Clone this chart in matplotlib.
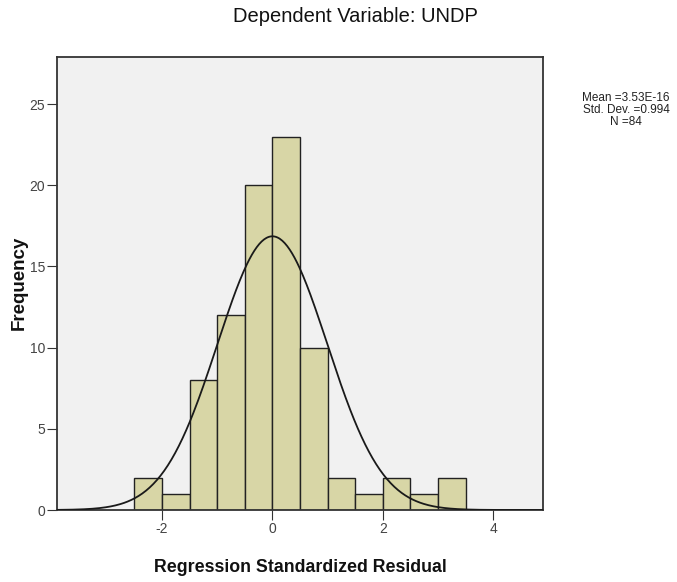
import matplotlib
matplotlib.use('Agg')
import matplotlib.pyplot as plt
import numpy as np

# histogram of standardized residuals
bin_edges = [-2.5, -2.0, -1.5, -1.0, -0.5, 0.0, 0.5, 1.0, 1.5, 2.0, 2.5, 3.0, 3.5]
counts = [2, 1, 8, 12, 20, 23, 10, 2, 1, 2, 1, 2]
x_ticks = [-2, 0, 2, 4]
y_ticks = [0, 5, 10, 15, 20, 25]
mean_val = 3.53e-16
std_val = 0.994
n_val = 84

narrow = ['Liberation Sans Narrow', 'Liberation Sans', 'DejaVu Sans']

fig = plt.figure(figsize=(6.77, 5.82), dpi=100)
ax = fig.add_axes([57 / 677, 1 - 510 / 582, 486 / 677, 453 / 582])
ax.set_facecolor('#f1f1f1')

widths = np.diff(bin_edges)
ax.bar(bin_edges[:-1], counts, width=widths, align='edge',
       color='#d8d6a6', edgecolor='#222222', linewidth=1.0, zorder=2)

# fitted normal curve from the reported statistics
bw = widths[0]
xs = np.linspace(-3.9, 4.9, 400)
ys = n_val * bw * np.exp(-0.5 * ((xs - mean_val) / std_val) ** 2) / (std_val * np.sqrt(2 * np.pi))
ax.plot(xs, ys, color='#1a1a1a', linewidth=1.3, zorder=3)

ax.set_xlim(-3.9, 4.9)
ax.set_ylim(0, 27.9)
ax.set_xticks(x_ticks)
ax.set_yticks(y_ticks)
ax.set_xticklabels([str(t) for t in x_ticks], family=narrow, fontsize=10, color='#444444')
ax.set_yticklabels([str(t) for t in y_ticks], family=narrow, fontsize=10, color='#444444')
ax.tick_params(direction='out', length=7, width=0.8, color='#333333', pad=1.5)
for s in ax.spines.values():
    s.set_color('#333333')
    s.set_linewidth(1.3)

fig.text(355 / 677, 1 - 17 / 582, 'Dependent Variable: UNDP', ha='center', va='center',
         fontsize=14.5, family=['Liberation Sans', 'DejaVu Sans'], color='#111111')
fig.text(300 / 677, 1 - 567 / 582, 'Regression Standardized Residual', ha='center', va='center',
         fontsize=12.8, fontweight='bold', family=['Liberation Sans', 'DejaVu Sans'], color='#111111')
fig.text(19 / 677, 1 - 283 / 582, 'Frequency', ha='center', va='center', rotation=90,
         fontsize=13.5, fontweight='bold', family=['Liberation Sans', 'DejaVu Sans'], color='#111111')

stats_txt = 'Mean =%.2fE-16\nStd. Dev. =%.3f\nN =%d' % (mean_val * 1e16, std_val, n_val)
fig.text(626 / 677, 1 - 110 / 582, stats_txt, ha='center', va='center', fontsize=8.5,
         family=narrow, color='#222222', linespacing=0.95)

plt.savefig('out.png', dpi=100)
